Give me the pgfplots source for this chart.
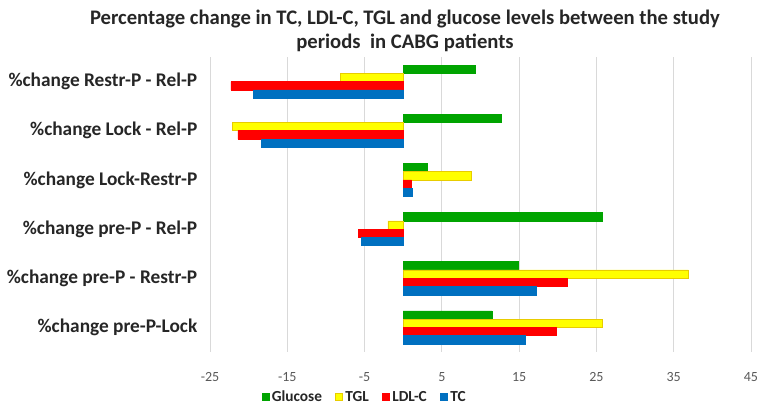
\documentclass[border=0pt]{standalone}
\usepackage{pgfplots}
\pgfplotsset{compat=1.18}
\usepackage{fontspec}
\setmainfont{Carlito}
\definecolor{cgreen}{HTML}{00A400}
\definecolor{cyellow}{HTML}{FFFF00}
\definecolor{cyelloweg}{HTML}{E8CC00}
\definecolor{cred}{HTML}{FF0000}
\definecolor{cblue}{HTML}{0070C0}
\definecolor{cgrid}{HTML}{D9D9D9}
\definecolor{ctick}{HTML}{595959}
\begin{document}
\begin{tikzpicture}
\useasboundingbox (0,0) rectangle (570.75pt,305.25pt);
\node[font=\fontsize{15.5}{18}\selectfont\bfseries, align=center, text=black!85] at (303.75pt,282pt)
  {Percentage change in TC, LDL-C, TGL and glucose levels between the study\\periods\ \ in CABG patients};
\begin{axis}[
  at={(157.5pt,41.25pt)}, anchor=south west,
  scale only axis, width=405.75pt, height=221.25pt,
  xmin=-25, xmax=45, ymin=-0.5, ymax=5.5,
  xtick={-25,-15,...,45},
  ytick={0,1,2,3,4,5},
  yticklabels={\%change pre-P-Lock,\%change pre-P - Restr-P,\%change pre-P - Rel-P,\%change Lock-Restr-P,\%change Lock - Rel-P,\%change Restr-P - Rel-P},
  yticklabel style={font=\fontsize{14.5}{16}\selectfont\bfseries, text=black!85, xshift=-6pt},
  xticklabel style={font=\fontsize{10.5}{12}\selectfont, text=ctick, yshift=-12pt},
  /pgf/number format/assume math mode=true,
  major tick length=0pt,
  axis line style={draw=none},
  xmajorgrids, grid style={cgrid, line width=0.6pt},
  xbar, bar width=6.2pt,
  legend style={at={(0.2865,-0.153)}, anchor=center, draw=none, legend columns=4,
    font=\fontsize{11.5}{13}\selectfont\bfseries, text=black!85,
    /tikz/every even column/.append style={column sep=8pt}},
  legend cell align=left,
  legend image code/.code={\fill[#1] (0pt,-2.6pt) rectangle (5.2pt,2.6pt);},
]
\addplot[fill=cgreen, draw=cgreen, bar shift=9.3pt] coordinates {
 (11.46,0) (14.95,1) (25.7,2) (3.15,3) (12.75,4) (9.26,5)};
\addlegendentry{Glucose}
\addplot[fill=cyellow, draw=cyelloweg, bar shift=3.1pt] coordinates {
 (25.76,0) (36.9,1) (-1.98,2) (8.75,3) (-22.1,4) (-8.09,5)};
\addlegendentry{TGL}
\addplot[fill=cred, draw=cred, bar shift=-3.1pt] coordinates {
 (19.86,0) (21.2,1) (-5.8,2) (1.08,3) (-21.4,4) (-22.3,5)};
\addlegendentry{LDL-C}
\addplot[fill=cblue, draw=cblue, bar shift=-9.3pt] coordinates {
 (15.8,0) (17.2,1) (-5.4,2) (1.21,3) (-18.4,4) (-19.4,5)};
\addlegendentry{TC}
\end{axis}
\end{tikzpicture}
\end{document}
